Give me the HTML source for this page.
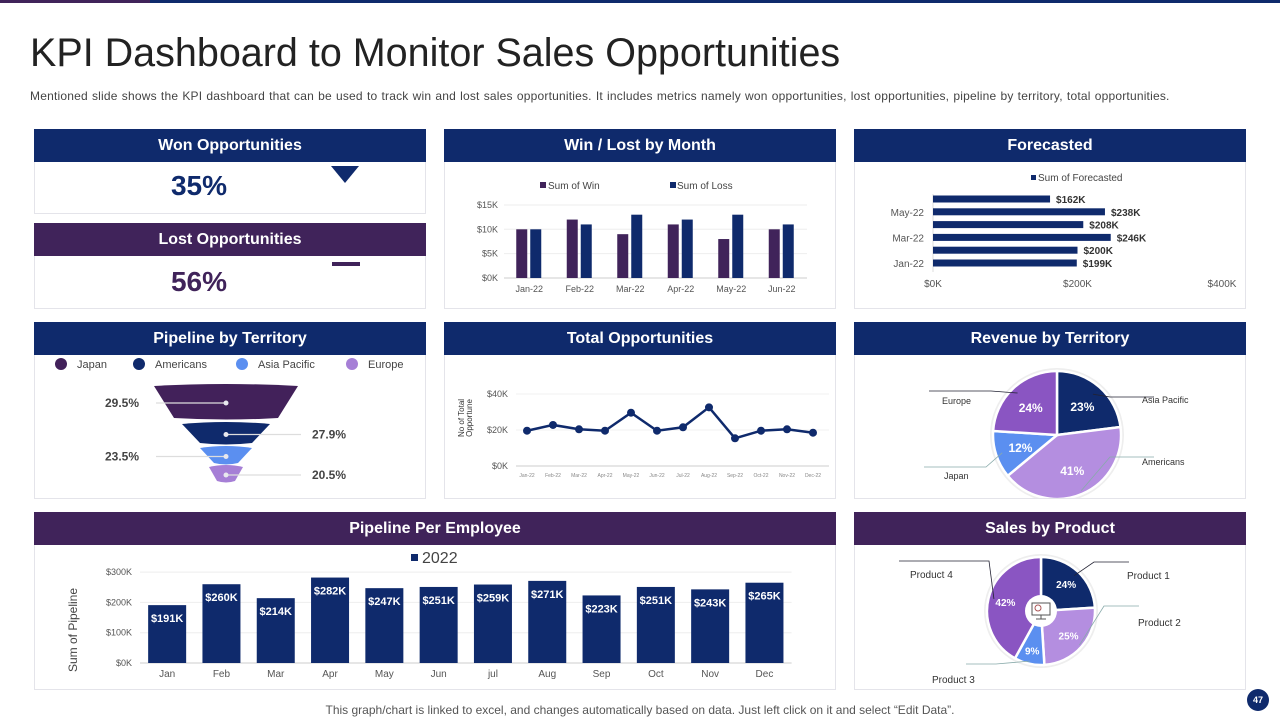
<!DOCTYPE html>
<html><head><meta charset="utf-8"><style>
body{margin:0;width:1280px;height:720px;position:relative;background:#fff;font-family:"Liberation Sans",sans-serif;overflow:hidden}
.abs{position:absolute}
.hdr{position:absolute;height:33px;color:#fff;font-weight:bold;font-size:16px;text-align:center;line-height:33px}
.nv{background:#0f2a6c}.pu{background:#40235a}
.box{position:absolute;border:1px solid #e4e4ea;background:#fff;box-sizing:border-box}
svg text{font-family:"Liberation Sans",sans-serif}
</style></head><body>
<div class="abs" style="left:0;top:0;width:1280px;height:3px;background:#0f2a6c"></div>
<div class="abs" style="left:0;top:0;width:150px;height:3px;background:#40235a"></div>
<div class="abs" style="left:30px;top:31px;font-size:39.5px;color:#222">KPI Dashboard to Monitor Sales Opportunities</div>
<div class="abs" style="left:30px;top:89px;font-size:12px;letter-spacing:0.2px;word-spacing:0.6px;color:#444">Mentioned slide shows the KPI dashboard that can be used to track win and lost sales opportunities. It includes metrics namely won opportunities, lost opportunities, pipeline by territory, total opportunities.</div>

<div class="box" style="left:34px;top:160px;width:392px;height:54px"></div>
<div class="hdr nv" style="left:34px;top:129px;width:392px">Won Opportunities</div>
<div class="abs" style="left:34px;top:170px;width:330px;text-align:center;font-size:28px;font-weight:bold;color:#0f2a6c">35%</div>
<svg class="abs" style="left:331px;top:166px" width="30" height="18"><polygon points="0,0 28,0 14,17" fill="#0f2a6c"/></svg>
<div class="box" style="left:34px;top:254px;width:392px;height:55px"></div>
<div class="hdr pu" style="left:34px;top:223px;width:392px">Lost Opportunities</div>
<div class="abs" style="left:34px;top:266px;width:330px;text-align:center;font-size:28px;font-weight:bold;color:#40235a">56%</div>
<div class="abs" style="left:332px;top:262px;width:28px;height:4px;background:#40235a"></div>

<div class="box" style="left:444px;top:160px;width:392px;height:149px"></div>
<div class="hdr nv" style="left:444px;top:129px;width:392px">Win / Lost by Month</div>
<svg class="abs" id="wl" style="left:444px;top:162px" width="392" height="146"></svg>

<div class="box" style="left:854px;top:160px;width:392px;height:149px"></div>
<div class="hdr nv" style="left:854px;top:129px;width:392px">Forecasted</div>
<svg class="abs" id="fc" style="left:854px;top:162px" width="392" height="146"></svg>

<div class="box" style="left:34px;top:352px;width:392px;height:147px"></div>
<div class="hdr nv" style="left:34px;top:322px;width:392px">Pipeline by Territory</div>
<svg class="abs" id="fn" style="left:34px;top:354px" width="392" height="144"></svg>

<div class="box" style="left:444px;top:352px;width:392px;height:147px"></div>
<div class="hdr nv" style="left:444px;top:322px;width:392px">Total Opportunities</div>
<svg class="abs" id="to" style="left:444px;top:354px" width="392" height="144"></svg>

<div class="box" style="left:854px;top:352px;width:392px;height:147px"></div>
<div class="hdr nv" style="left:854px;top:322px;width:392px">Revenue by Territory</div>
<svg class="abs" id="rv" style="left:854px;top:354px" width="392" height="144"></svg>

<div class="box" style="left:34px;top:542px;width:802px;height:148px"></div>
<div class="hdr pu" style="left:34px;top:512px;width:802px">Pipeline Per Employee</div>
<svg class="abs" id="pe" style="left:34px;top:544px" width="802" height="145"></svg>

<div class="box" style="left:854px;top:542px;width:392px;height:148px"></div>
<div class="hdr pu" style="left:854px;top:512px;width:392px">Sales by Product</div>
<svg class="abs" id="sp" style="left:854px;top:544px" width="392" height="145"></svg>

<div class="abs" style="left:0;width:1280px;top:703px;text-align:center;font-size:12px;color:#555">This graph/chart is linked to excel, and changes automatically based on data. Just left click on it and select “Edit Data”.</div>
<div class="abs" style="left:1247px;top:689px;width:22px;height:22px;border-radius:50%;background:#0f2a6c;color:#fff;font-size:9px;font-weight:bold;text-align:center;line-height:22px">47</div>

<script>
const NS='http://www.w3.org/2000/svg';
function el(p,t,a,txt){const e=document.createElementNS(NS,t);for(const k in a)e.setAttribute(k,a[k]);if(txt!==undefined)e.textContent=txt;p.appendChild(e);return e;}
const NAVY='#0f2a6c',PURP='#40235a';

const wlMonths=['Jan-22','Feb-22','Mar-22','Apr-22','May-22','Jun-22'];
const wlWin=[10,12,9,11,8,10];
const wlLoss=[10,11,13,12,13,11];
const wlTicks=[0,5,10,15];
(function(){
const s=document.getElementById('wl');
const x0=60,w=50.5,y=v=>116-v*4.87;
wlTicks.forEach(t=>{const l=el(s,'line',{x1:x0,x2:x0+6*w,y1:y(t),y2:y(t),stroke:t?'#eee':'#ccc'});

const tx=el(s,'text',{x:x0-6,y:y(t)+3,'text-anchor':'end','font-size':9,fill:'#555'},'$'+t+'K');
});
wlMonths.forEach((m,i)=>{const c=x0+w*(i+0.5);
const b1=el(s,'rect',{x:c-13,y:y(wlWin[i]),width:11,height:y(0)-y(wlWin[i]),fill:PURP});

const b2=el(s,'rect',{x:c+1,y:y(wlLoss[i]),width:11,height:y(0)-y(wlLoss[i]),fill:NAVY});

const t=el(s,'text',{x:c,y:130,'text-anchor':'middle','font-size':9,fill:'#555'},m);
});
const l1=el(s,'rect',{x:96,y:20,width:6,height:6,fill:PURP});
const lt1=el(s,'text',{x:104,y:27,'font-size':10,fill:'#444'},'Sum of Win');
const l2=el(s,'rect',{x:226,y:20,width:6,height:6,fill:NAVY});
const lt2=el(s,'text',{x:233,y:27,'font-size':10,fill:'#444'},'Sum of Loss');
})();

const fcMonths=['Jan-22','Feb-22','Mar-22','Apr-22','May-22','Jun-22'];
const fcValues=[199,200,246,208,238,162];
const fcTicks=[0,200,400];
(function(){
const s=document.getElementById('fc');
const x=v=>79+v*0.7225, rowY=i=>101-i*12.8;
el(s,'line',{x1:79,x2:79,y1:32,y2:110,stroke:'#ddd'});
fcTicks.forEach(t=>{const tx=el(s,'text',{x:x(t),y:125,'text-anchor':'middle','font-size':10,fill:'#555'},'$'+t+'K');
});
fcValues.forEach((v,i)=>{const yy=rowY(i);
const b=el(s,'rect',{x:79,y:yy-3.5,width:x(v)-79,height:7,fill:NAVY});

const t=el(s,'text',{x:x(v)+6,y:yy+4,'font-size':10,'font-weight':'bold',fill:'#333'},'$'+v+'K');

if(i%2==0){const c=el(s,'text',{x:70,y:yy+4,'text-anchor':'end','font-size':10,fill:'#555'},fcMonths[i]);
}});
const sw=el(s,'rect',{x:177,y:13,width:5,height:5,fill:NAVY});
const lt=el(s,'text',{x:184,y:19,'font-size':10,fill:'#444'},'Sum of Forecasted');
})();

const fnRegions=['Japan','Americans','Asia Pacific','Europe'];
const fnValues=[29.5,27.9,23.5,20.5];
(function(){
const s=document.getElementById('fn');
const cols=['#42215a','#0f2a6c','#5b8ff0','#a67fd6'];
const legX=[27,105,208,318];
fnRegions.forEach((r,i)=>{const c=el(s,'circle',{cx:legX[i],cy:10,r:6,fill:cols[i]});
const t=el(s,'text',{x:legX[i]+16,y:14,'font-size':11,fill:'#444'},r);});
const layers=[[32,64,72,52],[70,89,44,26],[94,109,26,12],[113,127,17,9]];
const cx=192;
fnValues.forEach((v,i)=>{const [t,b,hw,bw]=layers[i];
const p=el(s,'path',{d:`M${cx-hw},${t} Q${cx},${t-4} ${cx+hw},${t} L${cx+bw},${b} Q${cx},${b+3} ${cx-bw},${b} Z`,fill:cols[i]});

const my=(t+b)/2+1,left=i%2==0;
el(s,'line',{x1:cx,y1:my,x2:left?cx-70:cx+75,y2:my,stroke:'#ddd','stroke-width':1.2});
el(s,'circle',{cx:cx,cy:my,r:2.5,fill:'#e8e8ee'});
const tx=el(s,'text',{x:left?105:278,y:my+4,'text-anchor':left?'end':'start','font-size':12,'font-weight':'bold',fill:'#444'},v+'%');
});
})();

const toMonths=['Jan-22','Feb-22','Mar-22','Apr-22','May-22','Jun-22','Jul-22','Aug-22','Sep-22','Oct-22','Nov-22','Dec-22'];
const toValues=[19.6,22.8,20.4,19.6,29.6,19.6,21.5,32.6,15.4,19.6,20.4,18.5];
const toTicks=[0,20,40];
(function(){
const s=document.getElementById('to');
const x=i=>83+i*26, y=v=>112-v*1.8;
toTicks.forEach(t=>{el(s,'line',{x1:72,x2:385,y1:y(t),y2:y(t),stroke:t?'#f0f0f0':'#ccc'});
const tx=el(s,'text',{x:64,y:y(t)+3,'text-anchor':'end','font-size':9,fill:'#555'},'$'+t+'K');});
const yt=el(s,'text',{transform:'translate(20,64) rotate(-90)','text-anchor':'middle','font-size':8,fill:'#333'});
el(yt,'tspan',{x:0,dy:0},'No of Total');el(yt,'tspan',{x:0,dy:8},'Opportune');

const ln=el(s,'polyline',{points:toValues.map((v,i)=>x(i)+','+y(v)).join(' '),fill:'none',stroke:NAVY,'stroke-width':2.5});

toValues.forEach((v,i)=>{const c=el(s,'circle',{cx:x(i),cy:y(v),r:4,fill:NAVY});
const t=el(s,'text',{x:x(i),y:123,'text-anchor':'middle','font-size':5,fill:'#888'},toMonths[i]);});
})();

function pie(s,cx,cy,r,vals,cols){
let a=-Math.PI/2;const tot=vals.reduce((p,c)=>p+c,0);const mids=[];
vals.forEach((v,i)=>{const a2=a+v/tot*2*Math.PI;const lg=(a2-a)>Math.PI?1:0;
const p=el(s,'path',{d:`M${cx},${cy} L${cx+r*Math.cos(a)},${cy+r*Math.sin(a)} A${r},${r} 0 ${lg} 1 ${cx+r*Math.cos(a2)},${cy+r*Math.sin(a2)} Z`,fill:cols[i],stroke:'#fff','stroke-width':2.5});

mids.push((a+a2)/2);a=a2;});
return mids;}

const rvRegions=['Asia Pacific','Americans','Japan','Europe'];
const rvValues=[23,41,12,24];
(function(){
const s=document.getElementById('rv');
const cx=203,cy=81,r=64;
el(s,'circle',{cx:cx,cy:cy,r:r+3,fill:'#eee'});
const cols=['#0f2a6c','#b48ee0','#5b8ff0','#8a55c2'];
const m=pie(s,cx,cy,r,rvValues,cols);
m.forEach((a,i)=>{const t=el(s,'text',{x:cx+r*0.6*Math.cos(a),y:cy+r*0.6*Math.sin(a)+5,'text-anchor':'middle','font-size':12,'font-weight':'bold',fill:'#fff'},rvValues[i]+'%');
});
const L=[[cx+r*0.85*Math.cos(m[0]),cy+r*0.85*Math.sin(m[0]),300,43,'Asia Pacific',288,49],
[cx+r*0.95*Math.cos(m[1]),cy+r*0.95*Math.sin(m[1]),300,103,'Americans',288,111],
[cx+r*0.9*Math.cos(m[2]),cy+r*0.9*Math.sin(m[2]),70,113,'Japan',90,125],
[cx+r*0.9*Math.cos(m[3]),cy+r*0.9*Math.sin(m[3]),75,37,'Europe',88,50]];
L.forEach(l=>{const mx=l[2]>cx?l[2]-44:l[2]+62;
el(s,'polyline',{points:`${l[0]},${l[1]} ${mx},${l[3]} ${l[2]},${l[3]}`,fill:'none',stroke:l[4]=='Japan'||l[4]=='Americans'?'#8aa':'#223','stroke-width':0.8});
const t=el(s,'text',{x:l[5],y:l[6],'font-size':9,fill:'#333'},l[4]);});
})();

const peMonths=['Jan','Feb','Mar','Apr','May','Jun','jul','Aug','Sep','Oct','Nov','Dec'];
const peValues=[191,260,214,282,247,251,259,271,223,251,243,265];
const peTicks=[0,100,200,300];
(function(){
const s=document.getElementById('pe');
const x0=106,w=54.3,y=v=>119-v*0.303;
peTicks.forEach(t=>{el(s,'line',{x1:x0,x2:x0+12*w,y1:y(t),y2:y(t),stroke:t?'#eee':'#ccc'});
const tx=el(s,'text',{x:x0-8,y:y(t)+3,'text-anchor':'end','font-size':9,fill:'#555'},'$'+t+'K');});
peValues.forEach((v,i)=>{const c=x0+w*(i+0.5);
const b=el(s,'rect',{x:c-19,y:y(v),width:38,height:y(0)-y(v),fill:NAVY});
const t=el(s,'text',{x:c,y:y(v)+17,'text-anchor':'middle','font-size':11,'font-weight':'bold',fill:'#fff'},'$'+v+'K');
const m=el(s,'text',{x:c,y:133,'text-anchor':'middle','font-size':10,fill:'#555'},peMonths[i]);});
const sw=el(s,'rect',{x:377,y:10,width:7,height:7,fill:NAVY});
const lt=el(s,'text',{x:388,y:19,'font-size':16,fill:'#444'},'2022');
const yt=el(s,'text',{transform:'translate(43,86) rotate(-90)','text-anchor':'middle','font-size':12,fill:'#444'},'Sum of Pipeline');
})();

const spProducts=['Product 1','Product 2','Product 3','Product 4'];
const spValues=[24,25,9,42];
(function(){
const s=document.getElementById('sp');
const cx=187,cy=67,r=54;
el(s,'circle',{cx:cx,cy:cy,r:r+3,fill:'#eee'});
const cols=['#0f2a6c','#b48ee0','#5b8ff0','#8a55c2'];
const m=pie(s,cx,cy,r,spValues,cols);
const hc=el(s,'circle',{cx:cx,cy:cy,r:16,fill:'#fff'});
el(s,'rect',{x:cx-9,y:cy-8,width:18,height:12,fill:'none',stroke:'#555','stroke-width':1});
el(s,'circle',{cx:cx-3,cy:cy-3,r:3,fill:'none',stroke:'#a55','stroke-width':1});
el(s,'line',{x1:cx,y1:cy+4,x2:cx,y2:cy+8,stroke:'#555'});el(s,'line',{x1:cx-5,y1:cy+8,x2:cx+5,y2:cy+8,stroke:'#555'});
m.forEach((a,i)=>{const rr=i==2?0.75:0.68;const t=el(s,'text',{x:cx+r*rr*Math.cos(a),y:cy+r*rr*Math.sin(a)+4,'text-anchor':'middle','font-size':10,'font-weight':'bold',fill:'#fff'},spValues[i]+'%');
});
const L=[[m[0],0.9,[240,18],[275,18],spProducts[0],273,35,'#223'],[m[1],0.95,[250,62],[285,62],spProducts[1],284,82,'#8aa'],
[m[2],0.95,[142,120],[112,120],spProducts[2],78,139,'#8aa'],[m[3],0.9,[135,17],[45,17],spProducts[3],56,34,'#223']];
L.forEach(l=>{const p0=[cx+r*l[1]*Math.cos(l[0]),cy+r*l[1]*Math.sin(l[0])];
el(s,'polyline',{points:`${p0[0]},${p0[1]} ${l[2][0]},${l[2][1]} ${l[3][0]},${l[3][1]}`,fill:'none',stroke:l[7],'stroke-width':0.8});
const t=el(s,'text',{x:l[5],y:l[6],'font-size':10,fill:'#333'},l[4]);});
})();
</script>
</body></html>
